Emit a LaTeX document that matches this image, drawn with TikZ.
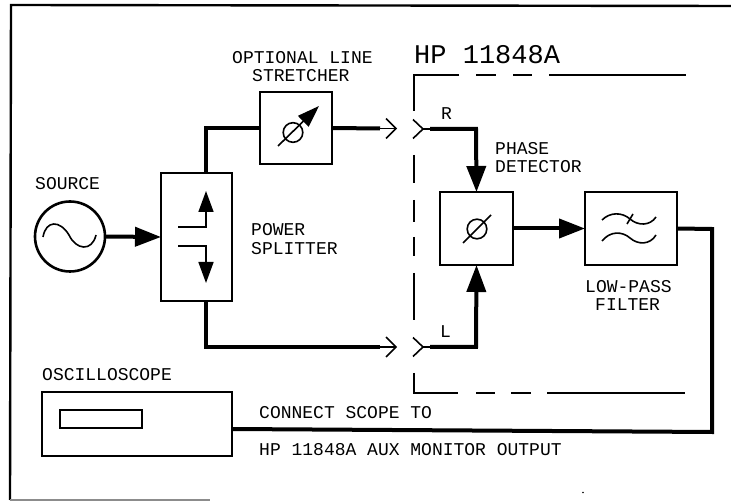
\documentclass[tikz,border=0pt]{standalone}
\usepackage{fontspec}
\setmonofont{Liberation Mono}
\usetikzlibrary{arrows.meta,calc}
\tikzset{
  lab/.style={inner sep=0pt,anchor=west,font=\fontsize{18}{18}\selectfont\ttfamily},
  blockbox/.style={draw,line width=2.6,rectangle,inner sep=0pt,outer sep=0pt},
  thick line/.style={line width=4,line join=miter},
  thin line/.style={line width=1.6,line join=miter},
  bound/.style={line width=1.7},
  solid head/.style={-{Triangle[length=#1,width=19]}},
}
\begin{document}
\begin{tikzpicture}[x=1pt,y=-1pt]
\useasboundingbox (0,0) rectangle (731,502);
% outer frame
\draw[line width=2.4] (731,6) -- (11,5) -- (10,500);
\draw[line width=1.2,black!45] (10,500) -- (210,500);
\coordinate (speck) at (583,492.5);
\fill (speck) circle (0.8);
% blocks
\node[draw,circle,line width=2.6,minimum size=70,inner sep=0pt,outer sep=0pt] (source) at (70,236.5) {};
\node[blockbox,minimum width=71,minimum height=128] (split) at (196.5,237) {};
\node[blockbox,minimum width=72,minimum height=72] (stretch) at (296,128) {};
\node[blockbox,minimum width=73,minimum height=73] (detector) at (476.5,228.5) {};
\node[blockbox,minimum width=92,minimum height=73] (filter) at (631,228.5) {};
\node[blockbox,minimum width=190,minimum height=64] (scope) at (137,424) {};
\node[draw,line width=2,minimum width=82,minimum height=18,inner sep=0pt] (screen) at (101,419) {};
% connector coordinates
\coordinate (upbend) at (206,128);
\coordinate (lowbend) at (206,347);
\coordinate (uptop) at (206,173);
\coordinate (lowbot) at (206,301);
\coordinate (rthick) at (380,128.5);
\coordinate (rtip) at (396,128.5);
\coordinate (lthick) at (380,347);
\coordinate (ltip) at (396,347);
\coordinate (rneck) at (423,129);
\coordinate (lneck) at (423,347);
\coordinate (rstart) at (430,129);
\coordinate (lstart) at (430,347);
\coordinate (rbend) at (476,129);
\coordinate (lbend) at (476,347);
\coordinate (outA) at (712,229);
\coordinate (outB) at (712,432);
\coordinate (scopein) at (232,429);
% thick connectors
\draw[thick line,solid head=26] (source.east) -- (split.west);
\draw[thick line] (uptop) -- (upbend) -- (stretch.west);
\draw[thick line] (stretch.east) -- (rthick);
\draw[thick line] (lowbot) -- (lowbend) -- (lthick);
\draw[thick line,solid head=26] (rstart) -- (rbend) -- (detector.north);
\draw[thick line,solid head=27] (lstart) -- (lbend) -- (detector.south);
\draw[thick line,solid head=26] (detector.east) -- (filter.west);
\draw[thick line] (filter.east) -- (outA) -- (outB) -- (scopein);
% open arrow ends
\foreach \a/\b in {rthick/rtip,lthick/ltip}{
  \draw[thin line] (\a) -- (\b);
  \draw[thin line] ($(\b)+(-10,-10)$) -- (\b) -- ($(\b)+(-10,10)$);
}
\foreach \c/\d in {rneck/rstart,lneck/lstart}{
  \draw[thin line] (\c) -- (\d);
  \draw[thin line] ($(\c)+(-10,-9.5)$) -- (\c) -- ($(\c)+(-10,9.5)$);
}
% splitter interior
\coordinate (sa) at (178,227);
\coordinate (sb) at (206,227);
\coordinate (sc) at (206,191);
\coordinate (sd) at (178,246);
\coordinate (se) at (206,246);
\coordinate (sf) at (206,283);
\draw[thin line,-{Triangle[length=21,width=15]}] (sa) -- (sb) -- (sc);
\draw[thin line,-{Triangle[length=21,width=15]}] (sd) -- (se) -- (sf);
% stretcher symbol
\coordinate (pa) at (278,146);
\coordinate (pb) at (319,106);
\draw[thin line] (293,132.5) circle (9.8);
\draw[thin line,-{Triangle[length=22,width=15]}] (pa) -- (pb);
% detector symbol
\coordinate (qa) at (463,243);
\coordinate (qb) at (491,215);
\draw[thin line] (477,229) circle (9.8);
\draw[thin line] (qa) -- (qb);
% source sine
\draw[thin line] (43,237) .. controls (46,220) and (60,220) .. (69,235) .. controls (76,250) and (92,252) .. (96,235);
% filter symbol
\draw[thin line] (602,220) .. controls (610,212) and (622,212) .. (630,219) .. controls (638,226) and (650,226) .. (656,217);
\draw[thin line] (627,224) -- (633,214);
\draw[thin line] (602,241) .. controls (610,231) and (622,231) .. (630,238) .. controls (638,245) and (650,245) .. (656,235);
% boundary
\coordinate (btl) at (414,75);
\coordinate (bbl) at (414,393);
\draw[bound] (459,75) -- (btl) -- (414,111);
\draw[bound] (476,75) -- (496,75) (513,75) -- (532,75) (549,75) -- (686,75);
\draw[bound] (414,155) -- (414,183) (414,200) -- (414,222) (414,237) -- (414,256) (414,273) -- (414,320);
\draw[bound] (414,373) -- (bbl) -- (458,393);
\draw[bound] (476,393) -- (495,393) (511,393) -- (531,393) (547,393) -- (685,393);
% labels
\node[lab] (t1) at (232,58) {OPTIONAL LINE};
\node[lab] (t2) at (252,76) {STRETCHER};
\node[lab,font=\fontsize{27}{27}\selectfont\ttfamily] (t3) at (414,55) {HP 11848A};
\node[lab] (t4) at (35,184) {SOURCE};
\node[lab] (t5) at (251,230) {POWER};
\node[lab] (t6) at (251,249) {SPLITTER};
\node[lab] (t7) at (495,149) {PHASE};
\node[lab] (t8) at (495,167) {DETECTOR};
\node[lab] (t9) at (441,114) {R};
\node[lab] (t10) at (440,332) {L};
\node[lab] (t11) at (585,287) {LOW-PASS};
\node[lab] (t12) at (595,305) {FILTER};
\node[lab] (t13) at (42,375) {OSCILLOSCOPE};
\node[lab] (t14) at (259,413) {CONNECT SCOPE TO};
\node[lab] (t15) at (259,450) {HP 11848A AUX MONITOR OUTPUT};
\end{tikzpicture}
\end{document}
